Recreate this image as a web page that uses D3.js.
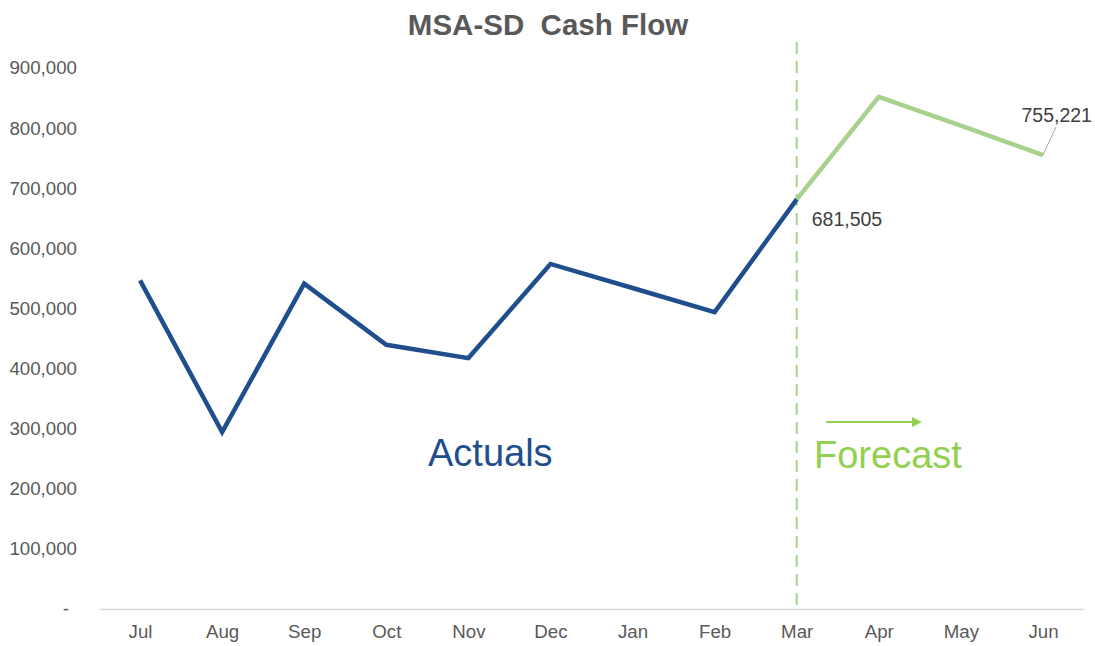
<!DOCTYPE html>
<html>
<head>
<meta charset="utf-8">
<script src="https://cdn.jsdelivr.net/npm/d3@7"></script>
<style>
  body { margin: 0; background: #fff; }
  svg text { font-family: "Liberation Sans", Arial, sans-serif; }
</style>
</head>
<body>
<div class="chart"></div>
<script>
// data
var months = ["Jul", "Aug", "Sep", "Oct", "Nov", "Dec", "Jan", "Feb", "Mar", "Apr", "May", "Jun"];
var actuals = [546700, 294200, 541200, 439600, 417400, 574000, 534000, 494000, 681505];
var forecast = [681505, 852000, 804000, 755221];
var yTicks = [0, 100000, 200000, 300000, 400000, 500000, 600000, 700000, 800000, 900000];

var width = 1095, height = 646;
var margin = {left: 99, right: 11, top: 68, bottom: 37};

var svg = d3.select(".chart").append("svg")
  .attr("width", width).attr("height", height);

var x = d3.scalePoint()
  .domain(months)
  .range([margin.left, width - margin.right])
  .padding(0.5);

var y = d3.scaleLinear()
  .domain([0, 900000])
  .range([height - margin.bottom, margin.top]);

var fmt = d3.format(",");

// title
svg.append("text")
  .attr("x", 548).attr("y", 35)
  .attr("text-anchor", "middle")
  .attr("font-size", 29.5).attr("font-weight", "bold")
  .attr("fill", "#595959")
  .style("white-space", "pre")
  .text("MSA-SD  Cash Flow");

// y axis labels
var yAxis = d3.axisLeft(y)
  .tickValues(yTicks)
  .tickSize(0)
  .tickPadding(0)
  .tickFormat(function(d) { return d === 0 ? "-" : fmt(d); });

svg.append("g")
  .attr("transform", "translate(77,0)")
  .call(yAxis)
  .call(function(g) { g.select(".domain").remove(); })
  .selectAll("text")
  .attr("font-size", 18.7)
  .attr("fill", "#595959")
  .attr("dx", function(d) { return d === 0 ? -8 : 0; });

// x axis
var xAxis = d3.axisBottom(x).tickSize(0).tickPadding(16);
svg.append("g")
  .attr("transform", "translate(0," + y(0) + ")")
  .call(xAxis)
  .call(function(g) { g.select(".domain").attr("stroke", "#d9d9d9").attr("stroke-width", 1.5); })
  .selectAll("text")
  .attr("font-size", 18.7)
  .attr("fill", "#595959");

// divider at Mar
svg.append("line")
  .attr("x1", x("Mar")).attr("x2", x("Mar"))
  .attr("y1", 42).attr("y2", y(0))
  .attr("stroke", "#a9d18e").attr("stroke-width", 2)
  .attr("stroke-dasharray", "12,7");

var line = d3.line()
  .x(function(d) { return x(d.m); })
  .y(function(d) { return y(d.v); });

var actualPts = actuals.map(function(v, i) { return {m: months[i], v: v}; });
var forecastPts = forecast.map(function(v, i) { return {m: months[i + 8], v: v}; });

svg.append("path")
  .datum(forecastPts)
  .attr("d", line)
  .attr("fill", "none")
  .attr("stroke", "#a9d18e")
  .attr("stroke-width", 4.5);

svg.append("path")
  .datum(actualPts)
  .attr("d", line)
  .attr("fill", "none")
  .attr("stroke", "#1f4e8c")
  .attr("stroke-width", 4.5)
  .attr("stroke-linejoin", "miter");

// data labels
var lastA = actualPts[actualPts.length - 1];
svg.append("text")
  .attr("x", x(lastA.m) + 15).attr("y", y(lastA.v) + 27)
  .attr("font-size", 19.5).attr("fill", "#404040")
  .text(fmt(lastA.v));

var lastF = forecastPts[forecastPts.length - 1];
svg.append("line")
  .attr("x1", x(lastF.m)).attr("y1", y(lastF.v))
  .attr("x2", x(lastF.m) + 13).attr("y2", y(lastF.v) - 28)
  .attr("stroke", "#a6a6a6").attr("stroke-width", 1);
svg.append("text")
  .attr("x", x(lastF.m) + 49).attr("y", y(lastF.v) - 33)
  .attr("text-anchor", "end")
  .attr("font-size", 19.5).attr("fill", "#404040")
  .text(fmt(lastF.v));

// annotations
svg.append("text")
  .attr("x", 428).attr("y", 466)
  .attr("font-size", 38).attr("fill", "#1f4e8c")
  .text("Actuals");

svg.append("text")
  .attr("x", 814).attr("y", 468)
  .attr("font-size", 38).attr("fill", "#92d050")
  .text("Forecast");

svg.append("defs").append("marker")
  .attr("id", "arrow")
  .attr("viewBox", "0 0 10 10")
  .attr("refX", 0).attr("refY", 5)
  .attr("markerWidth", 5).attr("markerHeight", 5)
  .attr("markerUnits", "strokeWidth")
  .attr("orient", "auto")
  .append("path")
  .attr("d", "M0,0L10,5L0,10Z")
  .attr("fill", "#92d050");

svg.append("line")
  .attr("x1", 826).attr("y1", 422)
  .attr("x2", 912).attr("y2", 422)
  .attr("stroke", "#92d050").attr("stroke-width", 2)
  .attr("marker-end", "url(#arrow)");
</script>
</body>
</html>
